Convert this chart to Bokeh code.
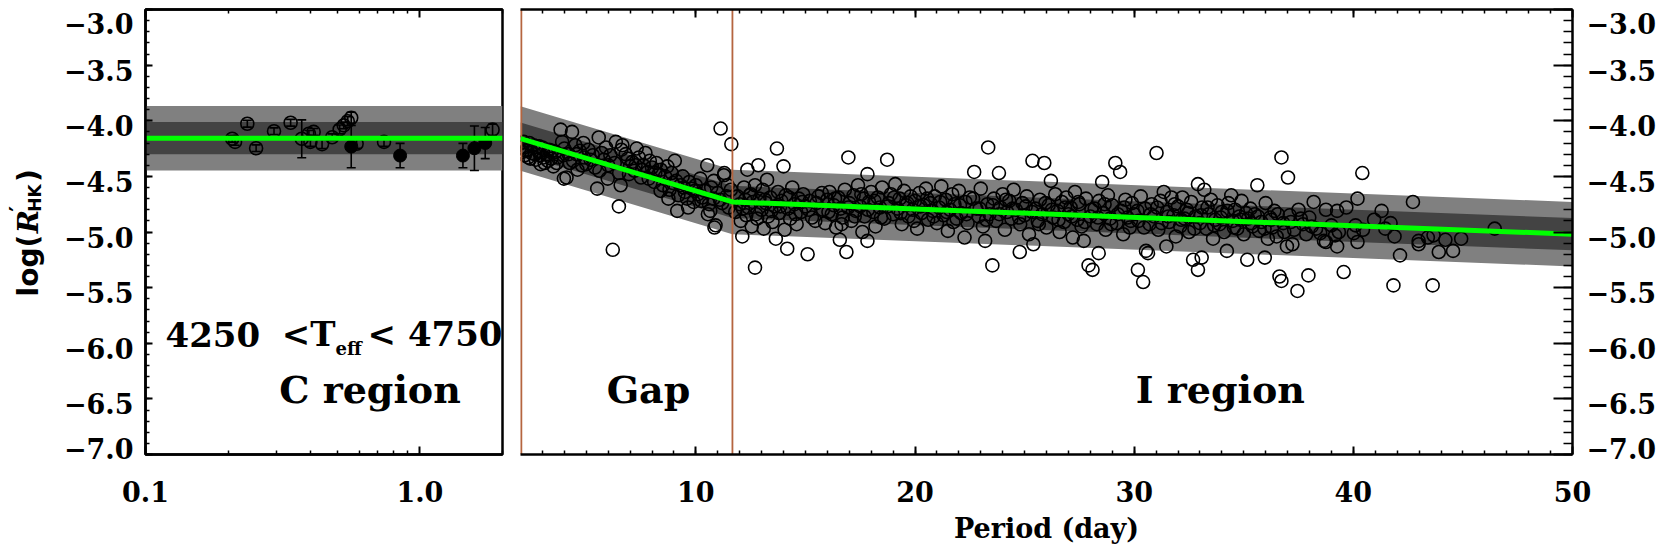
from math import pi, log10
import numpy as np
from bokeh.plotting import figure
from bokeh.layouts import row, column
from bokeh.models import FixedTicker, CustomJSTickFormatter, LogAxis, LinearAxis, LogScale
from bokeh.core.properties import value
from bokeh.embed import file_html
from bokeh.resources import INLINE

FONT = "DejaVu Serif"
SANS = "DejaVu Sans"

# ---------------- data ----------------
# C region (left panel): open circles with error bars
c_open_period = [0.207, 0.212, 0.235, 0.253, 0.294, 0.338, 0.371, 0.394, 0.399, 0.410,
                 0.440, 0.479, 0.510, 0.528, 0.546, 0.562, 0.588, 0.740, 1.840]
c_open_logr = [-4.162, -4.190, -4.027, -4.247, -4.094, -4.018, -4.162, -4.117, -4.190, -4.100,
               -4.210, -4.148, -4.078, -4.042, -4.004, -3.973, -4.207, -4.190, -4.080]
c_open_err = [0.03, 0.03, 0.03, 0.03, 0.03, 0.03, 0.17, 0.03, 0.04, 0.03,
              0.04, 0.03, 0.04, 0.03, 0.04, 0.05, 0.04, 0.04, 0.05]
# C region: filled circles with error bars
c_fill_period = [0.562, 0.847, 1.435, 1.580, 1.730]
c_fill_logr = [-4.232, -4.313, -4.313, -4.247, -4.200]
c_fill_err = [0.19, 0.11, 0.11, 0.20, 0.14]
c_fit_level = -4.157

# fit in Gap + I region (piecewise)
fit_period = [2.0, 11.67, 50.0]
fit_logr = [-4.16, -4.73, -5.02]
sigma1 = 0.145
sigma2 = 0.29
gap_bounds = [2.0, 11.67]

# axis ranges and ticks
left_xlim = (0.1, 2.0)
right_xlim = (2.0, 50.0)
ylim = (-7.0, -3.0)
y_major = [-7.0, -6.5, -6.0, -5.5, -5.0, -4.5, -4.0, -3.5, -3.0]
y_labels = ["\u22127.0", "\u22126.5", "\u22126.0", "\u22125.5", "\u22125.0",
            "\u22124.5", "\u22124.0", "\u22123.5", "\u22123.0"]
left_x_major = [0.1, 1.0]
left_x_labels = ["0.1", "1.0"]
left_x_minor = [0.2, 0.3, 0.4, 0.5, 0.6, 0.7, 0.8, 0.9, 2.0]
right_x_major = [10, 20, 30, 40, 50]
right_x_labels = ["10", "20", "30", "40", "50"]

# Gap region stars (period [d], log R'HK)
gap_stars = [
    (2.05, -4.24), (2.10, -4.28), (2.15, -4.19), (2.20, -4.31), (2.25, -4.27), (2.30, -4.26),
    (2.35, -4.33), (2.40, -4.20), (2.45, -4.34), (2.50, -4.29), (2.60, -4.22), (2.65, -4.30),
    (2.70, -4.35), (2.80, -4.27), (2.85, -4.23), (2.90, -4.31), (2.92, -4.39), (3.00, -4.24),
    (3.05, -4.33), (3.10, -4.38), (3.20, -4.30), (3.25, -4.36), (3.30, -4.26), (3.40, -4.34),
    (3.45, -4.27), (3.50, -4.41), (3.60, -4.28), (3.65, -4.38), (3.70, -4.33), (3.83, -4.08),
    (3.90, -4.19), (3.95, -4.31), (3.98, -4.52), (4.00, -4.25), (4.10, -4.51), (4.20, -4.30),
    (4.25, -4.38), (4.35, -4.10), (4.40, -4.36), (4.50, -4.22), (4.55, -4.30), (4.60, -4.44),
    (4.70, -4.27), (4.80, -4.40), (4.87, -4.20), (4.90, -4.33), (5.00, -4.39), (5.10, -4.26),
    (5.20, -4.35), (5.30, -4.31), (5.40, -4.42), (5.50, -4.61), (5.57, -4.15), (5.60, -4.45),
    (5.70, -4.29), (5.80, -4.35), (5.90, -4.24), (5.98, -4.52), (6.00, -4.40), (6.10, -4.31),
    (6.21, -5.16), (6.30, -4.38), (6.35, -4.19), (6.49, -4.77), (6.50, -4.47), (6.57, -4.58),
    (6.60, -4.26), (6.65, -4.22), (6.80, -4.30), (6.90, -4.34), (6.95, -4.48), (7.00, -4.41),
    (7.10, -4.37), (7.20, -4.45), (7.25, -4.40), (7.30, -4.25), (7.40, -4.33), (7.50, -4.51),
    (7.55, -4.44), (7.60, -4.40), (7.70, -4.29), (7.80, -4.46), (7.85, -4.52), (7.90, -4.36),
    (8.00, -4.42), (8.10, -4.55), (8.15, -4.47), (8.20, -4.38), (8.30, -4.48), (8.39, -4.63),
    (8.40, -4.44), (8.50, -4.58), (8.60, -4.50), (8.70, -4.41), (8.75, -4.70), (8.80, -4.62),
    (8.90, -4.47), (8.95, -4.56), (9.04, -4.36), (9.10, -4.54), (9.15, -4.81), (9.20, -4.67),
    (9.30, -4.58), (9.40, -4.50), (9.45, -4.60), (9.50, -4.64), (9.60, -4.70), (9.65, -4.78),
    (9.70, -4.55), (9.80, -4.61), (9.90, -4.73), (9.95, -4.63), (10.00, -4.58), (10.10, -4.66),
    (10.20, -4.52), (10.25, -4.72), (10.30, -4.69), (10.40, -4.63), (10.52, -4.40), (10.55, -4.84),
    (10.60, -4.75), (10.66, -4.81), (10.70, -4.60), (10.80, -4.70), (10.82, -4.54), (10.85, -4.96),
    (10.90, -4.94), (11.00, -4.65), (11.10, -4.71), (11.13, -4.07), (11.20, -4.74), (11.28, -4.49),
    (11.30, -4.47), (11.40, -4.68), (11.45, -4.58), (11.50, -4.78), (11.60, -4.62), (11.62, -4.21),
]

# I region stars (period [d], log R'HK)
i_stars = [
    (11.80, -4.82), (11.90, -4.68), (12.00, -4.75), (12.05, -4.90), (12.12, -5.04), (12.15, -4.79),
    (12.20, -4.60), (12.25, -4.71), (12.30, -4.85), (12.35, -4.44), (12.40, -4.78), (12.45, -4.67),
    (12.50, -4.66), (12.55, -4.95), (12.60, -4.73), (12.70, -5.32), (12.70, -4.58), (12.75, -4.84),
    (12.80, -4.88), (12.85, -4.40), (12.90, -4.70), (13.00, -4.80), (13.05, -4.62), (13.10, -4.97),
    (13.15, -4.71), (13.20, -4.74), (13.25, -4.53), (13.30, -4.86), (13.40, -4.69), (13.45, -4.81),
    (13.50, -4.91), (13.60, -4.77), (13.65, -5.06), (13.70, -4.25), (13.75, -4.64), (13.80, -4.83),
    (13.85, -4.77), (13.90, -4.72), (14.00, -4.41), (14.05, -4.98), (14.10, -4.67), (14.17, -5.15),
    (14.20, -4.79), (14.25, -4.69), (14.30, -4.88), (14.40, -4.60), (14.50, -4.75), (14.55, -4.84),
    (14.60, -4.93), (14.70, -4.70), (14.80, -4.82), (14.85, -4.73), (14.90, -4.66), (15.00, -4.77),
    (15.10, -5.20), (15.15, -4.80), (15.20, -4.72), (15.30, -4.87), (15.45, -4.90), (15.50, -4.74),
    (15.60, -4.68), (15.75, -4.65), (15.80, -4.80), (15.90, -4.92), (16.00, -4.71), (16.05, -4.82),
    (16.10, -4.64), (16.20, -4.84), (16.30, -4.76), (16.35, -4.70), (16.40, -4.96), (16.50, -4.69),
    (16.57, -5.07), (16.60, -4.79), (16.65, -4.93), (16.70, -4.87), (16.80, -4.62), (16.87, -5.18),
    (16.95, -4.78), (16.96, -4.33), (17.00, -4.74), (17.10, -4.90), (17.20, -4.67), (17.25, -4.86),
    (17.30, -4.81), (17.40, -4.58), (17.50, -4.77), (17.55, -4.66), (17.60, -5.00), (17.65, -4.70),
    (17.70, -4.86), (17.83, -4.48), (17.83, -5.08), (17.85, -4.80), (17.90, -4.73), (18.00, -4.64),
    (18.10, -4.82), (18.15, -4.72), (18.20, -4.95), (18.30, -4.69), (18.40, -4.78), (18.45, -4.87),
    (18.50, -4.60), (18.60, -4.88), (18.73, -4.35), (18.75, -4.77), (18.80, -4.74), (18.90, -4.66),
    (19.00, -4.84), (19.05, -4.69), (19.10, -4.57), (19.20, -4.79), (19.30, -4.70), (19.35, -4.83),
    (19.40, -4.93), (19.50, -4.63), (19.60, -4.76), (19.65, -4.74), (19.70, -4.86), (19.80, -4.68),
    (19.90, -4.80), (19.95, -4.90), (20.00, -4.72), (20.10, -4.97), (20.20, -4.65), (20.25, -4.77),
    (20.30, -4.83), (20.40, -4.76), (20.50, -4.61), (20.55, -4.70), (20.60, -4.89), (20.70, -4.74),
    (20.80, -4.81), (20.85, -4.86), (20.90, -4.68), (21.00, -4.92), (21.10, -4.78), (21.15, -4.73),
    (21.20, -4.59), (21.30, -4.85), (21.40, -4.71), (21.45, -4.82), (21.50, -4.99), (21.60, -4.80),
    (21.70, -4.66), (21.75, -4.91), (21.80, -4.75), (21.90, -4.88), (22.00, -4.63), (22.05, -4.76),
    (22.10, -4.83), (22.26, -5.05), (22.30, -4.73), (22.35, -4.84), (22.40, -4.92), (22.50, -4.69),
    (22.65, -4.70), (22.70, -4.46), (22.80, -4.79), (22.90, -4.86), (22.95, -4.79), (23.00, -4.61),
    (23.10, -4.95), (23.20, -5.08), (23.25, -4.89), (23.30, -4.75), (23.34, -4.24), (23.40, -4.84),
    (23.53, -5.30), (23.55, -4.76), (23.60, -4.70), (23.70, -4.90), (23.83, -4.47), (23.85, -4.84),
    (23.90, -4.78), (24.00, -4.66), (24.10, -4.98), (24.15, -4.71), (24.20, -4.82), (24.30, -4.72),
    (24.40, -4.88), (24.45, -4.79), (24.50, -4.62), (24.60, -4.80), (24.75, -4.87), (24.78, -5.18),
    (24.80, -4.93), (24.90, -4.74), (25.00, -4.85), (25.05, -4.77), (25.10, -4.68), (25.20, -5.02),
    (25.35, -4.82), (25.36, -4.36), (25.40, -5.11), (25.50, -4.79), (25.60, -4.90), (25.65, -4.93),
    (25.70, -4.71), (25.80, -4.84), (25.90, -4.38), (25.95, -4.74), (26.00, -4.96), (26.10, -4.76),
    (26.20, -4.54), (26.25, -4.80), (26.30, -4.87), (26.40, -4.66), (26.50, -4.81), (26.55, -4.89),
    (26.60, -5.00), (26.70, -4.73), (26.80, -4.91), (26.85, -4.78), (26.90, -4.69), (27.00, -4.84),
    (27.10, -4.78), (27.15, -4.86), (27.20, -5.05), (27.30, -4.64), (27.40, -4.89), (27.45, -4.73),
    (27.50, -4.75), (27.60, -4.95), (27.70, -5.08), (27.75, -4.91), (27.80, -4.70), (27.92, -5.30),
    (28.00, -4.86), (28.05, -4.80), (28.10, -5.34), (28.20, -4.79), (28.30, -4.93), (28.35, -4.87),
    (28.38, -5.19), (28.40, -4.72), (28.54, -4.55), (28.60, -4.83), (28.65, -4.75), (28.70, -4.98),
    (28.80, -4.67), (28.90, -4.88), (28.95, -4.93), (29.00, -4.76), (29.14, -4.38), (29.20, -4.92),
    (29.25, -4.84), (29.36, -4.46), (29.40, -4.81), (29.50, -5.02), (29.55, -4.78), (29.60, -4.71),
    (29.70, -4.87), (29.80, -4.96), (29.85, -4.90), (29.90, -4.74), (30.00, -4.84), (30.15, -4.81),
    (30.17, -5.34), (30.20, -4.90), (30.30, -4.68), (30.41, -5.45), (30.45, -4.96), (30.50, -4.79),
    (30.54, -5.17), (30.63, -5.19), (30.70, -4.93), (30.75, -4.84), (30.80, -4.75), (30.90, -4.86),
    (31.02, -4.29), (31.05, -4.78), (31.10, -4.98), (31.20, -4.72), (31.25, -4.92), (31.35, -4.64),
    (31.47, -5.13), (31.50, -4.82), (31.55, -4.86), (31.60, -4.91), (31.70, -4.69), (31.80, -4.85),
    (31.85, -4.75), (31.90, -5.04), (32.00, -4.77), (32.10, -4.95), (32.15, -4.89), (32.20, -4.69),
    (32.30, -4.88), (32.40, -4.80), (32.45, -4.83), (32.50, -5.00), (32.60, -4.73), (32.69, -5.25),
    (32.75, -4.97), (32.80, -4.86), (32.91, -4.57), (32.91, -5.34), (33.00, -4.92), (33.05, -4.85),
    (33.08, -5.23), (33.10, -4.78), (33.20, -4.62), (33.30, -4.97), (33.35, -4.78), (33.40, -4.84),
    (33.50, -4.71), (33.60, -5.06), (33.65, -4.94), (33.70, -4.89), (33.80, -4.76), (33.90, -4.93),
    (33.95, -4.87), (34.00, -4.82), (34.10, -5.00), (34.23, -5.17), (34.25, -4.81), (34.30, -4.74),
    (34.43, -4.67), (34.50, -4.90), (34.55, -4.96), (34.60, -4.80), (34.70, -4.97), (34.80, -4.86),
    (34.85, -4.89), (34.90, -4.72), (35.00, -5.02), (35.10, -4.83), (35.16, -5.25), (35.20, -4.88),
    (35.30, -4.79), (35.35, -4.92), (35.40, -4.95), (35.50, -4.84), (35.62, -4.58), (35.65, -4.86),
    (35.70, -4.99), (35.80, -4.91), (35.95, -4.97), (35.96, -5.23), (36.00, -4.74), (36.10, -5.06),
    (36.20, -4.87), (36.25, -4.89), (36.30, -4.96), (36.40, -4.81), (36.50, -5.04), (36.55, -4.84),
    (36.63, -5.40), (36.72, -4.33), (36.72, -5.44), (36.80, -4.92), (36.85, -5.00), (36.97, -5.13),
    (37.02, -4.51), (37.10, -4.85), (37.15, -4.91), (37.22, -5.11), (37.30, -4.98), (37.45, -5.53),
    (37.50, -4.80), (37.60, -4.88), (37.70, -4.93), (37.85, -5.02), (37.95, -5.39), (37.99, -4.87),
    (38.10, -4.95), (38.19, -4.73), (38.30, -4.97), (38.49, -5.01), (38.66, -5.08), (38.75, -4.80),
    (38.75, -5.09), (39.00, -4.94), (39.17, -5.03), (39.26, -4.81), (39.26, -5.13), (39.34, -5.00),
    (39.56, -5.36), (39.68, -4.78), (40.02, -5.01), (40.10, -4.94), (40.19, -4.70), (40.19, -5.09),
    (40.41, -4.47), (40.44, -4.98), (40.95, -4.89), (41.29, -4.81), (41.46, -4.97), (41.70, -4.92),
    (41.83, -5.48), (41.88, -5.04), (42.13, -5.21), (42.72, -4.73), (42.98, -5.08), (42.98, -5.11),
    (43.40, -5.05), (43.62, -5.48), (43.66, -5.03), (43.90, -5.18), (44.20, -5.07), (44.55, -5.17),
    (44.92, -5.06), (46.45, -4.97),
]

gap_period = [p for p, _ in gap_stars]
gap_logr = [r for _, r in gap_stars]
i_period = [p for p, _ in i_stars]
i_logr = [r for _, r in i_stars]

# ---------------- layout (page pixels; Bokeh's page has no body margin) ----------------
PAGE_W, PAGE_H = 1661, 549
ROW_SPLIT_Y = 470                # page y where the tick-label row starts
F_TOP, F_BOT = 9, 454            # frame top / bottom (page y)
L_FRAME = (145, 502)             # left panel frame x (page)
R_FRAME = (520, 1572)            # right panel frame x (page)
YLAB_RIGHT = 140                 # page x where the left panel figure starts
SPLIT = 511                      # page x where the right panel figure starts
RIGHT_END = 1576                 # page x where the right label strip starts

H_TOP = ROW_SPLIT_Y
H_BOT = PAGE_H - ROW_SPLIT_Y
TICK_FS = "27px"
PPU = (F_BOT - F_TOP) / (ylim[1] - ylim[0])
ylab_range = (ylim[0] - (ROW_SPLIT_Y - F_BOT) / PPU, ylim[1] + F_TOP / PPU)

# ---------------- helpers ----------------
blank_fmt = CustomJSTickFormatter(code="return '';")
y_ticker = FixedTicker(ticks=y_major, minor_ticks=list(np.round(np.arange(-7.0, -2.95, 0.1), 1)))


def style_axis(ax, maj_in, min_in):
    ax.axis_line_width = 2.5
    ax.axis_line_color = "black"
    ax.major_tick_in = maj_in
    ax.major_tick_out = 0
    ax.minor_tick_in = min_in
    ax.minor_tick_out = 0
    ax.major_tick_line_width = 2
    ax.minor_tick_line_width = 1.5
    ax.major_tick_line_color = "black"
    ax.minor_tick_line_color = "black"
    ax.formatter = blank_fmt
    ax.major_label_standoff = 0


def texts(p, xs, ys, txts, size, align="center", xoff=0, yoff=0, angle=0.0, style="bold", font=FONT):
    # anchors are the visual centres of the text lines
    p.text(x=xs, y=ys, text=txts, text_font=value(font), text_font_size=value(size),
           text_font_style=value(style), text_align=value(align), text_baseline=value("middle"),
           text_color="black", x_offset=xoff, y_offset=yoff, angle=angle)


def new_fig(w, h, **kw):
    f = figure(width=w, height=h, title=None, output_backend="svg", toolbar_location=None,
               frame_align=False, **kw)
    f.xgrid.visible = False
    f.ygrid.visible = False
    f.background_fill_color = "white"
    f.border_fill_color = "white"
    return f


def strip(w, h, xr, yr, log_x=False):
    f = new_fig(w, h, x_range=xr, y_range=yr, x_axis_location=None, y_axis_location=None,
                min_border=0, min_border_left=0, min_border_right=0, min_border_top=0,
                min_border_bottom=0)
    if log_x:
        f.x_scale = LogScale()
    f.outline_line_color = None
    return f

# per-label vertical nudges (IDL keeps end labels inside the box)
y_lab_off = [-6] + [5] * (len(y_major) - 2) + [14]

# ---------------- left y labels + title ----------------
ylab = strip(YLAB_RIGHT, H_TOP, (0, YLAB_RIGHT), ylab_range)
texts(ylab, [133] * len(y_major), y_major, y_labels, TICK_FS, align="right", yoff=y_lab_off)
texts(ylab, [28], [-5.579], ["log("], "28px", align="left", angle=pi / 2, font=SANS)
texts(ylab, [28], [-5.011], ["R"], "28px", align="left", angle=pi / 2, style="bold italic")
texts(ylab, [17], [-4.817], ["\u2032"], "22px", align="left", angle=pi / 2, font=SANS)
texts(ylab, [34], [-4.817], ["HK"], "17px", align="left", angle=pi / 2, font=SANS)
texts(ylab, [28], [-4.550], [")"], "28px", align="left", angle=pi / 2, font=SANS)

# ---------------- left panel (C region) ----------------
left = new_fig(SPLIT - YLAB_RIGHT, H_TOP, x_axis_type="log", x_range=left_xlim, y_range=ylim,
               min_border_left=L_FRAME[0] - YLAB_RIGHT, min_border_right=SPLIT - L_FRAME[1],
               min_border_top=F_TOP, min_border_bottom=ROW_SPLIT_Y - F_BOT)
left.outline_line_color = "black"
left.outline_line_width = 2.5
lx_ticker = FixedTicker(ticks=left_x_major, minor_ticks=left_x_minor)
left.xaxis.ticker = lx_ticker
style_axis(left.xaxis[0], 8, 4)
left.yaxis.ticker = y_ticker
style_axis(left.yaxis[0], 7, 4)
ltop = LogAxis(ticker=lx_ticker)
style_axis(ltop, 8, 4)
left.add_layout(ltop, "above")

xs_c = list(left_xlim)
left.varea(x=xs_c, y1=[c_fit_level - sigma2] * 2, y2=[c_fit_level + sigma2] * 2, fill_color="#808080")
left.varea(x=xs_c, y1=[c_fit_level - sigma1] * 2, y2=[c_fit_level + sigma1] * 2, fill_color="#434343")

lo_o = [v - e for v, e in zip(c_open_logr, c_open_err)]
hi_o = [v + e for v, e in zip(c_open_logr, c_open_err)]
lo_f = [v - e for v, e in zip(c_fill_logr, c_fill_err)]
hi_f = [v + e for v, e in zip(c_fill_logr, c_fill_err)]
for xs, lo, hi in ((c_open_period, lo_o, hi_o), (c_fill_period, lo_f, hi_f)):
    left.segment(x0=xs, y0=lo, x1=xs, y1=hi, line_color="black", line_width=1.6)
    left.scatter(x=xs + xs, y=lo + hi, marker="dash", size=9, line_color="black", line_width=1.6)
left.scatter(x=c_open_period, y=c_open_logr, size=13, fill_alpha=0, line_color="black", line_width=1.6)
left.scatter(x=c_fill_period, y=c_fill_logr, size=13, fill_color="black", line_color="black")
left.line(x=xs_c, y=[c_fit_level] * 2, line_color="#00ff00", line_width=5)

texts(left, [0.1183], [-5.917], ["4250"], "34px", align="left")
texts(left, [0.1183], [-5.917], ["<T"], "34px", align="right", xoff=170)
texts(left, [0.1183], [-5.917], ["eff"], "18px", align="left", xoff=170, yoff=14)
texts(left, [0.1183], [-5.917], ["< 4750"], "34px", align="right", xoff=337)
texts(left, [0.658], [-6.416], ["C region"], "38px")

# ---------------- right panel (Gap + I region) ----------------
right = new_fig(RIGHT_END - SPLIT, H_TOP, x_range=right_xlim, y_range=ylim, y_axis_location="right",
                min_border_left=R_FRAME[0] - SPLIT, min_border_right=RIGHT_END - R_FRAME[1],
                min_border_top=F_TOP, min_border_bottom=ROW_SPLIT_Y - F_BOT)
right.outline_line_color = None
rx_ticker = FixedTicker(ticks=right_x_major, minor_ticks=list(range(3, 50)))
right.xaxis.ticker = rx_ticker
style_axis(right.xaxis[0], 8, 4)
right.yaxis.ticker = y_ticker
style_axis(right.yaxis[0], 19, 9)
rtop = LinearAxis(ticker=rx_ticker)
style_axis(rtop, 8, 4)
right.add_layout(rtop, "above")

fit_arr = np.array(fit_logr)
right.varea(x=fit_period, y1=fit_arr - sigma2, y2=fit_arr + sigma2, fill_color="#808080")
right.varea(x=fit_period, y1=fit_arr - sigma1, y2=fit_arr + sigma1, fill_color="#434343")
right.scatter(x=gap_period + i_period, y=gap_logr + i_logr, size=13, fill_alpha=0,
              line_color="black", line_width=1.6)
right.segment(x0=gap_bounds[:1], y0=[ylim[0]], x1=gap_bounds[:1], y1=[ylim[1]],
              line_color="#b5653f", line_width=3.5)
right.segment(x0=gap_bounds[1:], y0=[ylim[0]], x1=gap_bounds[1:], y1=[ylim[1]],
              line_color="#b5653f", line_width=1.8)
right.line(x=fit_period, y=fit_logr, line_color="#00ff00", line_width=5)

texts(right, [7.84], [-6.416], ["Gap"], "38px")
texts(right, [33.93], [-6.416], ["I region"], "38px")

# ---------------- right y labels ----------------
rlab = strip(PAGE_W - RIGHT_END, H_TOP, (RIGHT_END, PAGE_W), ylab_range)
texts(rlab, [1586] * len(y_major), y_major, y_labels, TICK_FS, align="left", yoff=y_lab_off)

# ---------------- x tick labels + x title (strips share the panels' x scales) ----------------
k = log10(left_xlim[1] / left_xlim[0]) / (L_FRAME[1] - L_FRAME[0])
lx_lo = 10 ** (log10(left_xlim[0]) - L_FRAME[0] * k)
lx_hi = 10 ** (log10(left_xlim[1]) + (SPLIT - L_FRAME[1]) * k)
xlab_l = strip(SPLIT, H_BOT, (lx_lo, lx_hi), (PAGE_H, ROW_SPLIT_Y), log_x=True)
texts(xlab_l, left_x_major, [491] * len(left_x_major), left_x_labels, TICK_FS)

u = (right_xlim[1] - right_xlim[0]) / (R_FRAME[1] - R_FRAME[0])
rx_lo = right_xlim[0] - (R_FRAME[0] - SPLIT) * u
rx_hi = right_xlim[1] + (PAGE_W - R_FRAME[1]) * u
xlab_r = strip(PAGE_W - SPLIT, H_BOT, (rx_lo, rx_hi), (PAGE_H, ROW_SPLIT_Y))
texts(xlab_r, right_x_major, [491] * len(right_x_major), right_x_labels, TICK_FS)
texts(xlab_r, [(right_xlim[0] + right_xlim[1]) / 2], [528], ["Period (day)"], "27px")

layout = row(column(row(ylab, left), xlab_l), column(row(right, rlab), xlab_r))
open("out.html", "w").write(file_html(layout, INLINE))
